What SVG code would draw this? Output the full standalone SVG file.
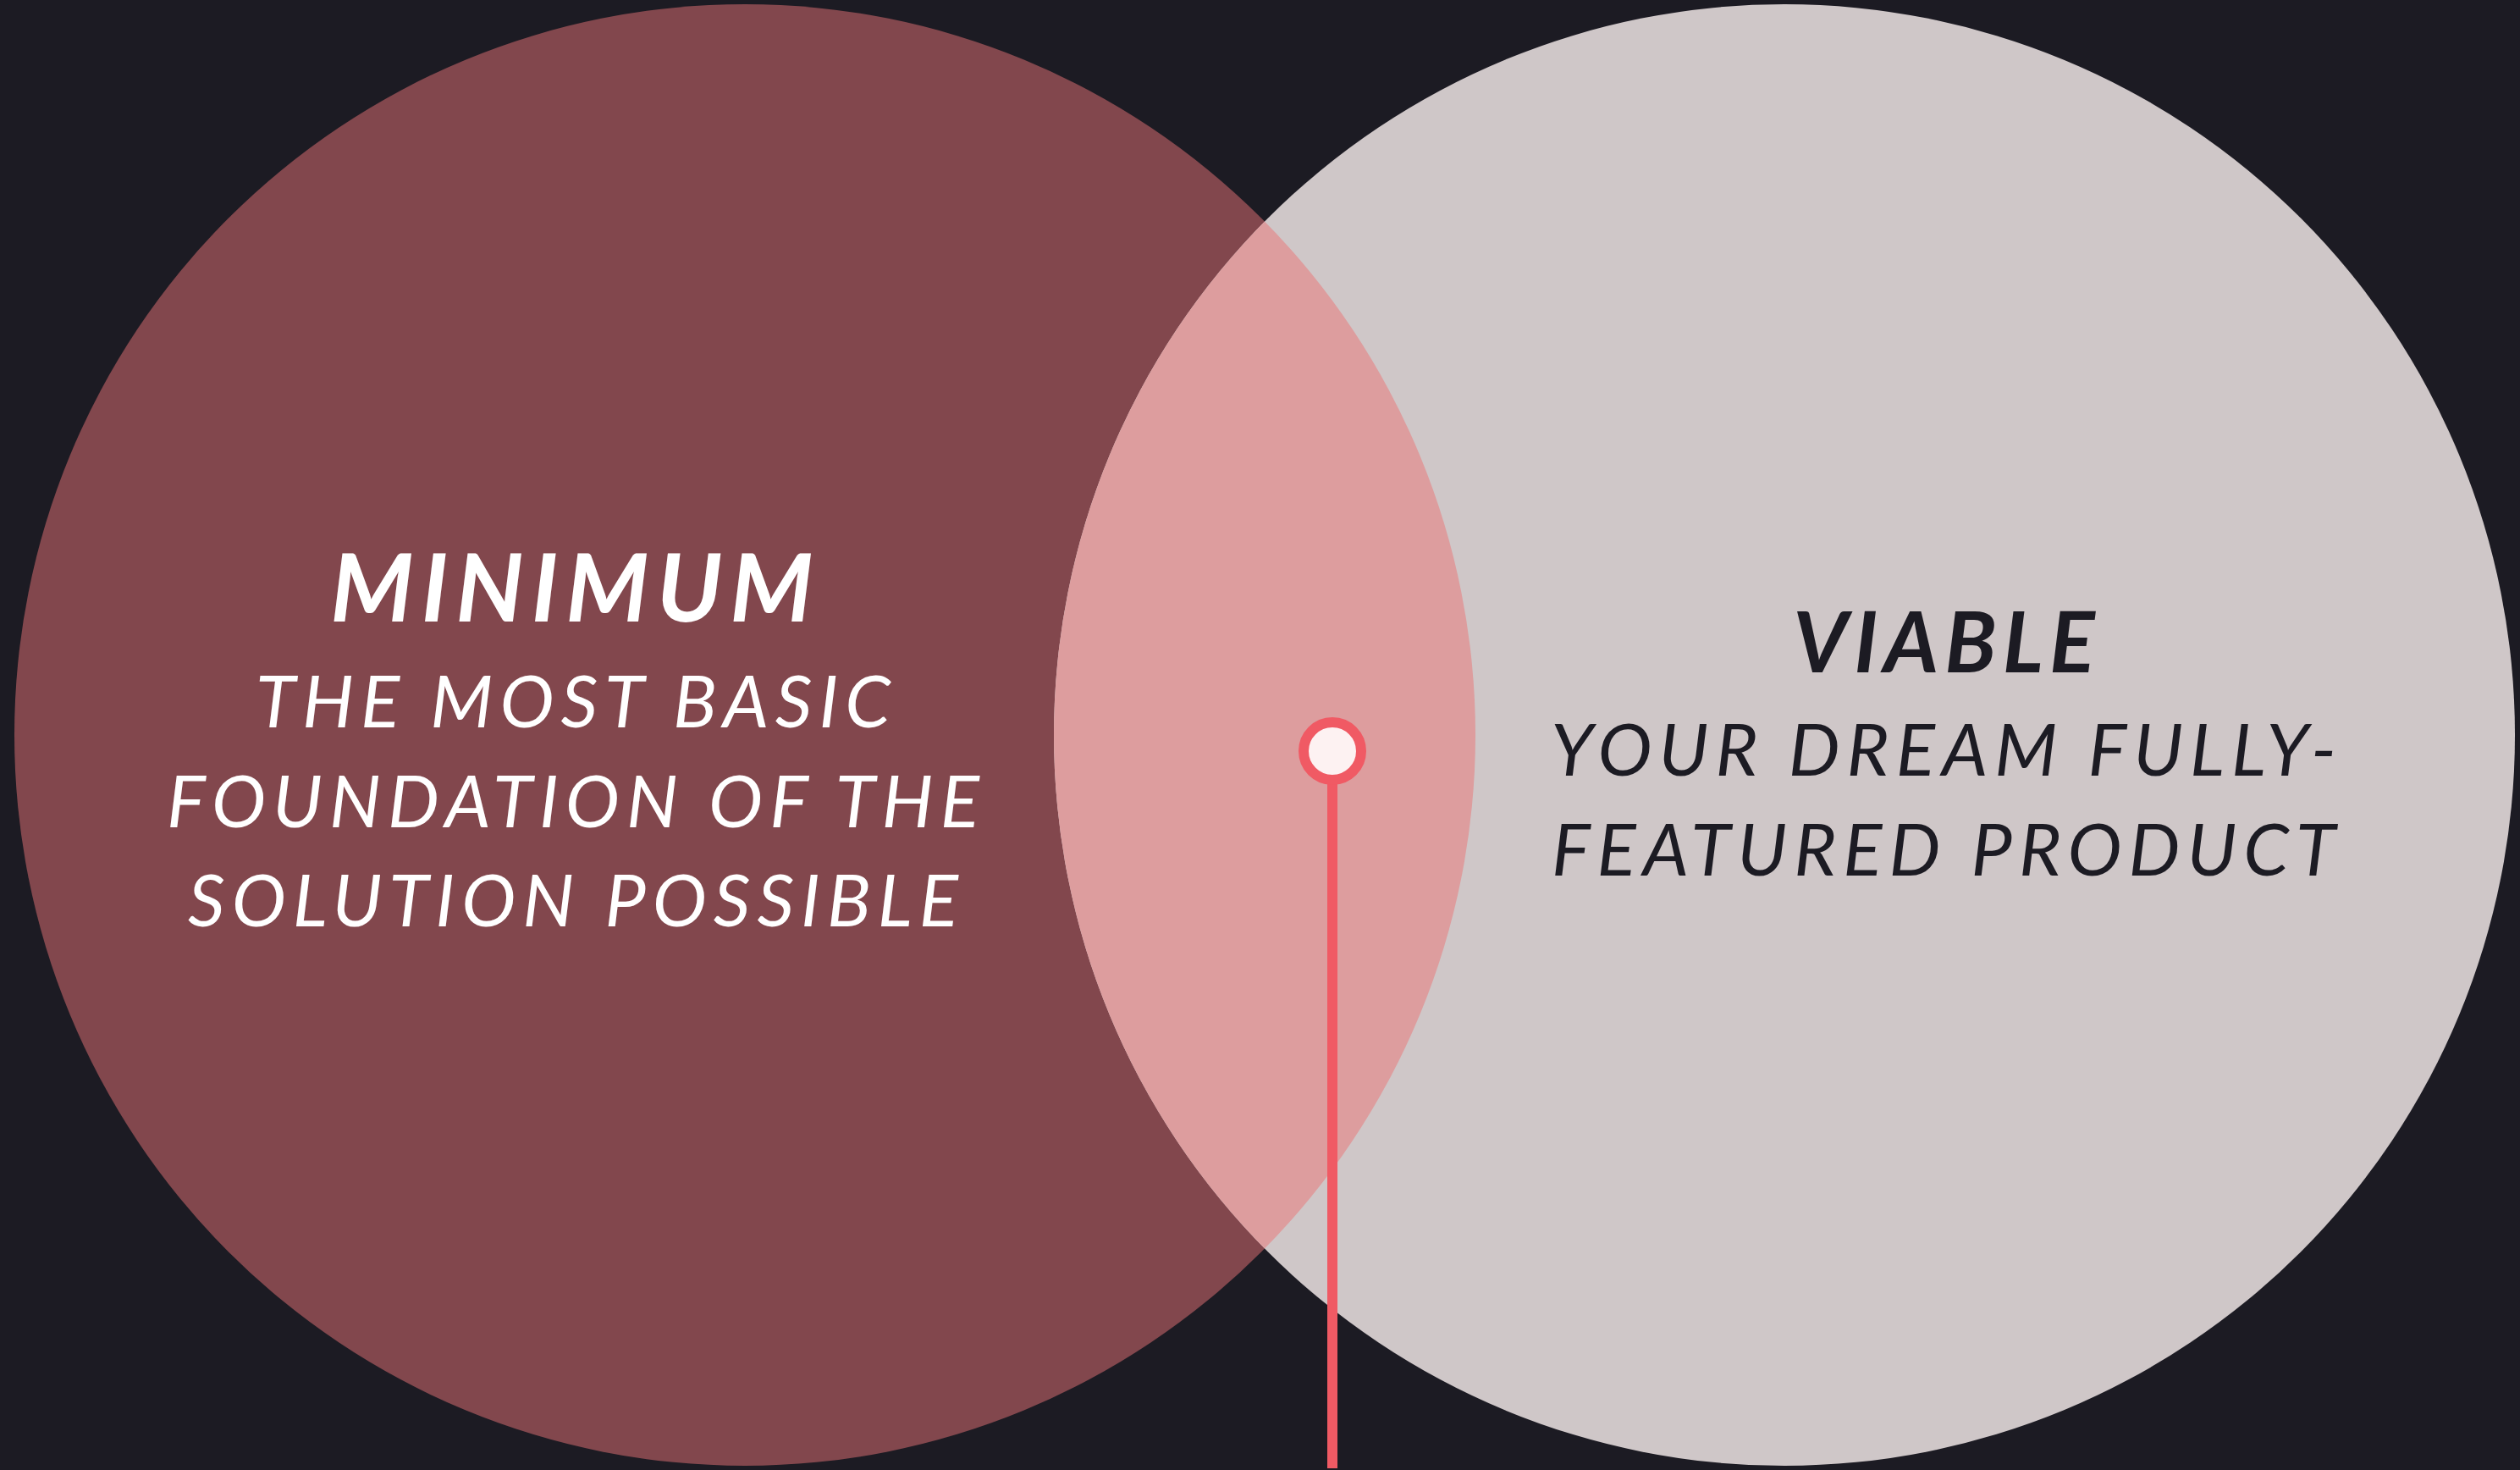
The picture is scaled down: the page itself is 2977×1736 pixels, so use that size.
<svg xmlns="http://www.w3.org/2000/svg" width="2977" height="1736" viewBox="0 0 2977 1736">
<style>
.title{font-family:Lato,"Liberation Sans",sans-serif;font-weight:700;font-style:italic;text-anchor:middle}
.sub{font-family:Lato,"Liberation Sans",sans-serif;font-weight:400;font-style:italic;text-anchor:middle}
</style>
<defs>
<clipPath id="clipL"><circle cx="880" cy="868" r="863"/></clipPath>
</defs>
<rect x="0" y="0" width="2977" height="1736" fill="#1c1b23"/>
<g id="minimum">
<circle cx="880" cy="868" r="863" fill="#82474d"/>
</g>
<g id="viable">
<circle cx="2108" cy="868" r="863" fill="#cfc7c8"/>
</g>
<g id="overlap">
<circle cx="2108" cy="868" r="863" fill="#dd9d9e" clip-path="url(#clipL)"/>
</g>
<g id="texts">
<text class="title" x="680" y="734" font-size="112" letter-spacing="9" fill="#ffffff">MINIMUM</text>
<text class="sub" x="681" y="859" font-size="86" letter-spacing="8" fill="#ffffff">THE MOST BASIC</text>
<text class="sub" x="681" y="977" font-size="86" letter-spacing="8" fill="#ffffff">FOUNDATION OF THE</text>
<text class="sub" x="681" y="1094" font-size="86" letter-spacing="8" fill="#ffffff">SOLUTION POSSIBLE</text>
<text class="title" x="2300" y="794" font-size="100" letter-spacing="7" fill="#1c1b23">VIABLE</text>
<text class="sub" x="2300" y="916" font-size="86" letter-spacing="8" fill="#1c1b23">YOUR DREAM FULLY-</text>
<text class="sub" x="2300" y="1034" font-size="86" letter-spacing="8" fill="#1c1b23">FEATURED PRODUCT</text>
</g>
<g id="connectors">
<line x1="1574" y1="920" x2="1574" y2="1734" stroke="#f05a64" stroke-width="12"/>
</g>
<g id="pin">
<circle cx="1574" cy="887" r="34" fill="#fdf2f2" stroke="#f05a64" stroke-width="12"/>
</g>
</svg>
